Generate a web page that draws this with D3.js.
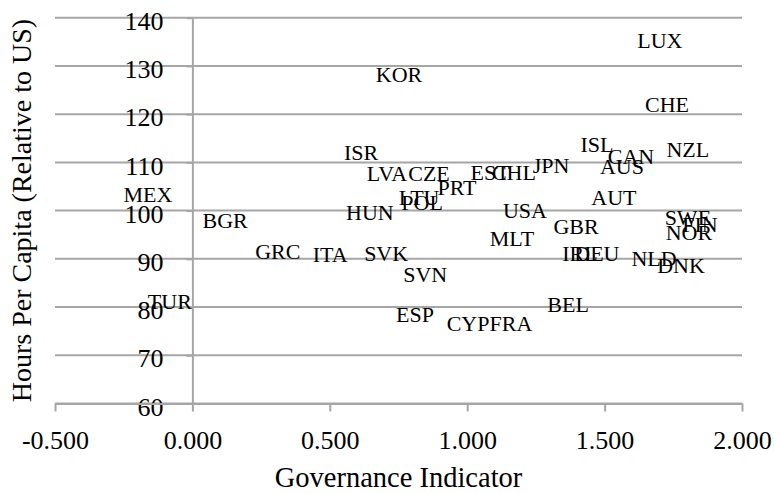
<!DOCTYPE html>
<html>
<head>
<meta charset="utf-8">
<script src="https://cdn.jsdelivr.net/npm/d3@7"></script>
<style>
html,body{margin:0;padding:0;background:#fff;}
svg{display:block;}
text{font-family:"Palatino Linotype","Book Antiqua",Palatino,"Liberation Serif",serif;fill:#000;}
</style>
</head>
<body>
<svg id="chart" width="774" height="493"></svg>
<script>
const countries = ["LUX","CHE","KOR","ISR","LVA","CZE","EST","CHL","JPN","PRT","LTU","POL","HUN","USA","MLT","GBR","SVK","ITA","GRC","BGR","MEX","TUR","SVN","ESP","CYP","FRA","BEL","ISL","CAN","AUS","NZL","AUT","SWE","FIN","NOR","IRL","DEU","NLD","DNK"];
const governance = [1.701,1.727,0.752,0.614,0.708,0.861,1.083,1.170,1.305,0.963,0.825,0.836,0.646,1.210,1.163,1.396,0.705,0.501,0.311,0.119,-0.162,-0.082,0.847,0.810,1.003,1.159,1.367,1.472,1.596,1.563,1.803,1.534,1.803,1.847,1.807,1.410,1.472,1.680,1.778];
const hours = [135.3,121.9,128.3,112.1,107.6,107.6,107.8,107.8,109.4,104.7,102.8,101.6,99.7,100.1,94.3,96.6,91.2,90.8,91.6,98.0,103.4,81.2,86.8,78.5,76.5,76.5,80.6,113.8,111.3,109.2,112.7,102.8,98.6,97.2,95.5,91.2,91.2,90.1,88.7];
const xTicks = [-0.5,0,0.5,1,1.5,2];
const yTicks = [60,70,80,90,100,110,120,130,140];
const xTitle = "Governance Indicator";
const yTitle = "Hours Per Capita (Relative to US)";

const FONT = '"Palatino Linotype","Book Antiqua",Palatino,"Liberation Serif",serif';
const svg = d3.select("#chart");
const x = d3.scaleLinear().domain([-0.5,2]).range([55,742]);
const y = d3.scaleLinear().domain([60,140]).range([403.5,17.7]);
const gridColor = "#a6a6a6";

// horizontal gridlines
svg.append("g").selectAll("line").data(yTicks).join("line")
  .attr("x1", x(-0.5)).attr("x2", x(2))
  .attr("y1", d => y(d)).attr("y2", d => y(d))
  .attr("stroke", gridColor).attr("stroke-width", 2);

// y axis at x = 0
const yAxis = d3.axisLeft(y).tickValues(yTicks).tickSize(6).tickSizeOuter(0);
const gy = svg.append("g").attr("transform", `translate(${x(0)},0)`).call(yAxis);
gy.select(".domain").attr("stroke", gridColor).attr("stroke-width", 2);
gy.selectAll(".tick line").attr("stroke", gridColor).attr("stroke-width", 2);
gy.selectAll(".tick text").attr("font-size", 26).attr("x", -29).attr("dy", "0.45em")
  .style("font-family", FONT).attr("fill", "#000");

// x axis
const fmt = d => d3.format(".3f")(d).replace("\u2212", "-");
const xAxis = d3.axisBottom(x).tickValues(xTicks).tickSize(8).tickSizeOuter(0).tickFormat(fmt);
const gx = svg.append("g").attr("transform", `translate(0,${y(60)})`).call(xAxis);
gx.select(".domain").attr("stroke", gridColor).attr("stroke-width", 2);
gx.selectAll(".tick line").attr("stroke", gridColor).attr("stroke-width", 2);
gx.selectAll(".tick text").attr("font-size", 26).attr("y", 27).attr("dy", "0.71em")
  .style("font-family", FONT).attr("fill", "#000");

// data labels
svg.append("g").selectAll("text").data(countries).join("text")
  .attr("x", (d,i) => x(governance[i]))
  .attr("y", (d,i) => y(hours[i]))
  .attr("text-anchor", "middle")
  .attr("dominant-baseline", "central")
  .attr("font-size", 22)
  .text(d => d);

// axis titles
svg.append("text").attr("x", (x(-0.5)+x(2))/2).attr("y", 477)
  .attr("text-anchor", "middle").attr("dominant-baseline", "central")
  .attr("font-size", 28.5).text(xTitle);
svg.append("text").attr("transform", `translate(21,${(y(60)+y(140))/2}) rotate(-90)`)
  .attr("text-anchor", "middle").attr("dominant-baseline", "central")
  .attr("font-size", 28).text(yTitle);
</script>
</body>
</html>
